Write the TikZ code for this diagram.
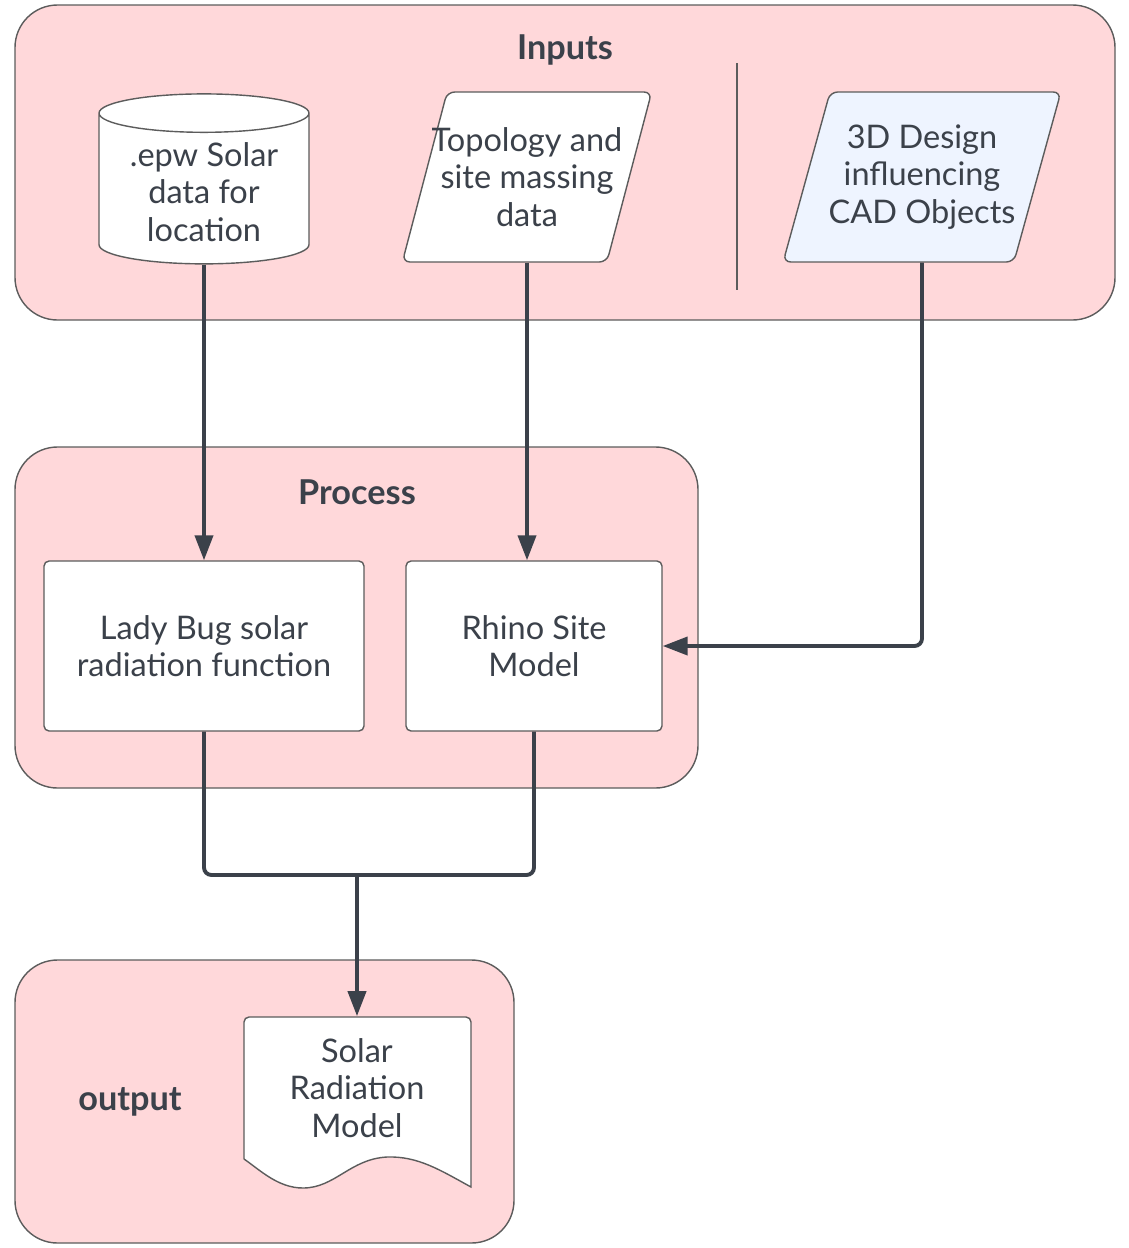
\documentclass[tikz,border=0pt]{standalone}
\usepackage{fontspec}
\setmainfont{Lato}
\usetikzlibrary{arrows.meta, shapes.geometric, positioning}
\definecolor{grpfill}{HTML}{FFD8DA}
\definecolor{grpline}{HTML}{5C5C5C}
\definecolor{inkc}{HTML}{3B414A}
\definecolor{cadfill}{HTML}{EEF4FF}
\tikzset{%
  >={Triangle[width=3.6mm,length=5mm]},
  % Specifications for style of nodes:
	group/.style = {draw=grpline, fill=grpfill, line width=0.8pt, rounded corners=0.85cm},
	title/.style = {text=inkc, font=\fontsize{19.5}{23}\selectfont\bfseries},
	base/.style = {draw=grpline, fill=white, line width=0.8pt, align=center, text=inkc,
                   font=\fontsize{18.5}{21.3}\selectfont},
	store/.style = {base, cylinder, shape border rotate=90, aspect=0.24,
                    minimum width=4.2cm, minimum height=3.4cm},
	data/.style = {base, trapezium, trapezium left angle=68, trapezium right angle=112,
                   trapezium stretches body, minimum width=1cm, minimum height=3.4cm,
                   rounded corners=0.15cm},
	process/.style = {base, rounded corners=0.1cm, minimum height=3.4cm},
	docs/.style = {align=center, text=inkc, font=\fontsize{18.5}{21.3}\selectfont,
                   minimum width=4.54cm, minimum height=2.86cm},
	norm/.style = {->, draw=inkc, line width=2.2pt, rounded corners=0.15cm},
}

\begin{document}
\begin{tikzpicture}[x=0.02cm, y=-0.02cm]
  \useasboundingbox (0,0) rectangle (1129,1248);
  % Groups
  \draw[group] (15,5) rectangle (1115,320);
  \draw[group] (15,447) rectangle (698,788);
  \draw[group] (15,960) rectangle (514,1243);
  \node (tinputs) [title] at (565,50) {Inputs};
  \node (tprocess) [title] at (357,492) {Process};
  \node (toutput) [title] at (130,1102) {output};
  \draw[grpline, line width=1pt] (737,63) -- (737,290);

  % Specification of nodes (position, etc.)
  \node (epw) [store] at (204,192) {.epw Solar\\ data for\\ location};
  \node (topo) [data, inner xsep=-0.31cm] at (527,177) {Topology and\\ site massing\\ data};
  \node (cad) [data, fill=cadfill, inner xsep=-0.03cm] at (922,177) {3D Design\\ influencing\\ CAD Objects};

  \node (ladybug) [process, minimum width=6.4cm] at (204,646) {Lady Bug solar\\ radiation function};
  \node (rhino) [process, minimum width=5.12cm] at (534,646) {Rhino Site\\ Model};

  % document outline
  \draw[base] (244,1159) [rounded corners=0.1cm] -- (244,1017) -- (471,1017) [sharp corners] -- (471,1187)
     .. controls (440,1170) and (418,1156) .. (387,1157)
     .. controls (350,1159) and (335,1188) .. (303,1188)
     .. controls (278,1188) and (260,1170) .. (244,1159);
  \node (solar) [docs] at (357,1088) {Solar\\ Radiation\\ Model};

  \coordinate (merge) at (357,875);

  % Connectors
  \draw [norm] (epw.south) -- (ladybug.north);
  \draw [norm] (topo.south) -- (topo.south |- rhino.north);
  \draw [norm] (cad.south) |- (rhino.east);
  \draw [norm, -] (ladybug.south) |- (merge);
  \draw [norm, -] (rhino.south) |- (merge);
  \draw [norm] (merge) -- (solar.north);
\end{tikzpicture}
\end{document}
